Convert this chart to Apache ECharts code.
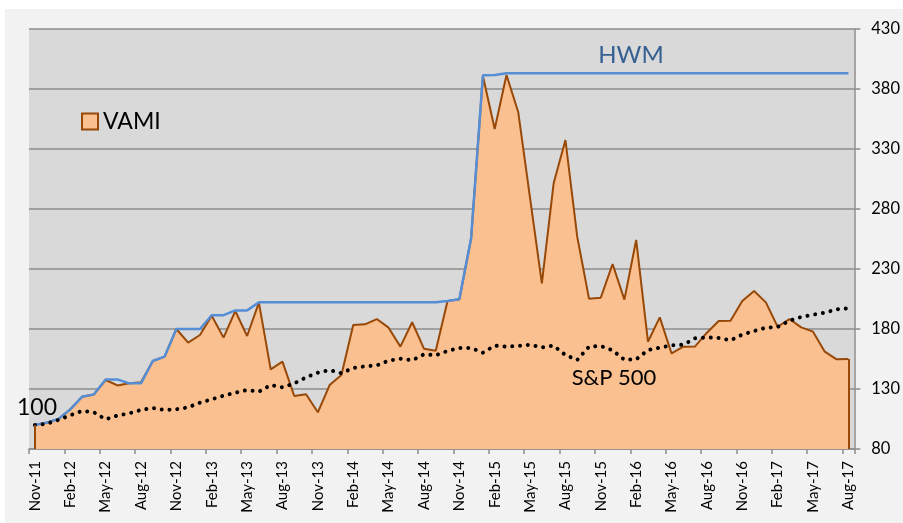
<!DOCTYPE html>
<html>
<head>
<meta charset="utf-8">
<script src="https://cdn.jsdelivr.net/npm/echarts@6/dist/echarts.min.js"></script>
<style>
html,body{margin:0;padding:0;background:#ffffff;}
#chart{width:903px;height:523px;}
</style>
</head>
<body>
<div id="chart"></div>
<script>
var months = ['Nov-11','Dec-11','Jan-12','Feb-12','Mar-12','Apr-12','May-12','Jun-12','Jul-12','Aug-12','Sep-12','Oct-12',
  'Nov-12','Dec-12','Jan-13','Feb-13','Mar-13','Apr-13','May-13','Jun-13','Jul-13','Aug-13','Sep-13','Oct-13',
  'Nov-13','Dec-13','Jan-14','Feb-14','Mar-14','Apr-14','May-14','Jun-14','Jul-14','Aug-14','Sep-14','Oct-14',
  'Nov-14','Dec-14','Jan-15','Feb-15','Mar-15','Apr-15','May-15','Jun-15','Jul-15','Aug-15','Sep-15','Oct-15',
  'Nov-15','Dec-15','Jan-16','Feb-16','Mar-16','Apr-16','May-16','Jun-16','Jul-16','Aug-16','Sep-16','Oct-16',
  'Nov-16','Dec-16','Jan-17','Feb-17','Mar-17','Apr-17','May-17','Jun-17','Jul-17','Aug-17'];

var vami = [100,102,105,113,123.5,125.5,137.5,133,134.7,135.6,153.3,157,
  180,168.6,175,191,172.8,195,174.2,202,146.4,152.8,124.2,125.6,
  110.6,133.3,141.7,183.3,183.9,188.3,181.1,165.3,185.6,163.6,161.9,203.3,
  204.7,255.6,390.8,346.7,391.7,360.6,289,218.1,301.4,337.5,256.9,205.3,
  206.1,234.2,204.5,254.2,169.4,189.7,159.7,165.3,165.5,176.9,186.7,186.9,
  203.3,211.7,202.2,181.9,188.3,181.4,177.8,161.1,154.7,155];

var hwm = [100,102,105,113,123.5,125.5,138,138,134.7,134.7,153.3,157,
  180,180,180,191.5,191.5,195.5,195.5,202.2,202.2,202.2,202.2,202.2,
  202.2,202.2,202.2,202.2,202.2,202.2,202.2,202.2,202.2,202.2,202.2,203.3,
  204.7,255.6,391.4,391.7,393.1,393.1,393.1,393.1,393.1,393.1,393.1,393.1,
  393.1,393.1,393.1,393.1,393.1,393.1,393.1,393.1,393.1,393.1,393.1,393.1,
  393.1,393.1,393.1,393.1,393.1,393.1,393.1,393.1,393.1,393.1];

var sp500 = [100,101,104.2,108.1,111.7,110.6,104.7,107.9,109.7,112.5,114.2,112.5,
  113.1,114.7,118.6,121.4,124.4,126.9,129.2,127.8,133.3,131.4,134.7,139.7,
  143.6,145.8,143.1,147.5,148.9,149.7,153.6,155.3,153.9,158.9,158.1,161.7,
  164.2,164.2,160.3,166.1,165.3,165.8,166.9,164.7,166.1,158.3,154.2,165.3,
  165.8,162.2,154.4,154.7,162.5,164.4,166.4,166.9,172.2,173.1,172.5,170.6,
  175.3,178.3,181.1,181.7,186.9,190,191.9,193.6,196.4,197.2];

var yMin = 80, yMax = 430, yStep = 50;
var FONT = 'Lato, "Liberation Sans", sans-serif';

var chart = echarts.init(document.getElementById('chart'), null, {renderer:'canvas'});
var last = months.length - 1;

chart.setOption({
  animation: false,
  backgroundColor: '#ffffff',
  textStyle: {fontFamily: FONT},
  graphic: [
    {type:'rect', z:-10, silent:true, shape:{x:5, y:9, width:898, height:514}, style:{fill:'#f2f2f2'}},
    {type:'text', z:100, style:{x:631, y:55, text:'HWM', font:'24px ' + FONT, fill:'#376092', textAlign:'center', textVerticalAlign:'middle'}},
    {type:'text', z:100, style:{x:614, y:378, text:'S&P 500', font:'22px ' + FONT, fill:'#000000', textAlign:'center', textVerticalAlign:'middle'}},
    {type:'text', z:100, style:{x:37, y:408, text:'100', font:'23px ' + FONT, fill:'#000000', textAlign:'center', textVerticalAlign:'middle'}}
  ],
  legend: {
    left: 81, top: 110, padding: 0,
    itemWidth: 16, itemHeight: 16, itemGap: 10,
    textStyle: {fontSize: 23, color: '#000000', fontFamily: FONT},
    data: [{name:'VAMI', icon:'rect', itemStyle:{color:'#FAC090', borderColor:'#984807', borderWidth:2}}]
  },
  grid: {left: 29, top: 29, width: 831, height: 420, show: true, backgroundColor: '#d9d9d9', borderWidth: 0},
  xAxis: {
    type: 'category',
    data: months,
    boundaryGap: true,
    axisLine: {show: true, lineStyle: {color: '#8c8c8c', width: 1.5}},
    axisTick: {show: true, interval: 2, length: 5, lineStyle: {color: '#8c8c8c', width: 1.5}},
    axisLabel: {interval: 2, rotate: 90, margin: 12, fontSize: 15, color: '#000000', fontFamily: FONT},
    splitLine: {show: false}
  },
  yAxis: {
    type: 'value',
    position: 'right',
    min: yMin, max: yMax, interval: yStep,
    axisLine: {show: true, lineStyle: {color: '#8c8c8c', width: 1.5}},
    axisTick: {show: true, length: 6, lineStyle: {color: '#8c8c8c', width: 1.5}},
    axisLabel: {margin: 17, fontSize: 16.5, color: '#000000', fontFamily: FONT},
    splitLine: {show: true, lineStyle: {color: '#8c8c8c', width: 1.5}}
  },
  series: [
    {
      name: 'VAMI', type: 'line', data: vami, showSymbol: false, symbol: 'none', z: 2,
      lineStyle: {color: '#984807', width: 2},
      itemStyle: {color: '#FAC090'},
      areaStyle: {color: '#FAC090', opacity: 1, origin: 'start'},
      markLine: {
        silent: true, symbol: 'none', label: {show: false},
        lineStyle: {color: '#984807', width: 2, type: 'solid'},
        data: [
          [{coord: [months[0], yMin]}, {coord: [months[0], vami[0]]}],
          [{coord: [months[last], yMin]}, {coord: [months[last], vami[last]]}]
        ]
      }
    },
    {
      name: 'HWM', type: 'line', data: hwm, showSymbol: false, symbol: 'none', z: 3,
      lineStyle: {color: '#558ED5', width: 2.5}
    },
    {
      name: 'S&P 500', type: 'line', data: sp500, showSymbol: false, symbol: 'none', z: 4,
      lineStyle: {color: '#000000', width: 4, type: [0.01, 7.8], cap: 'round'}
    }
  ]
});
</script>
</body>
</html>
